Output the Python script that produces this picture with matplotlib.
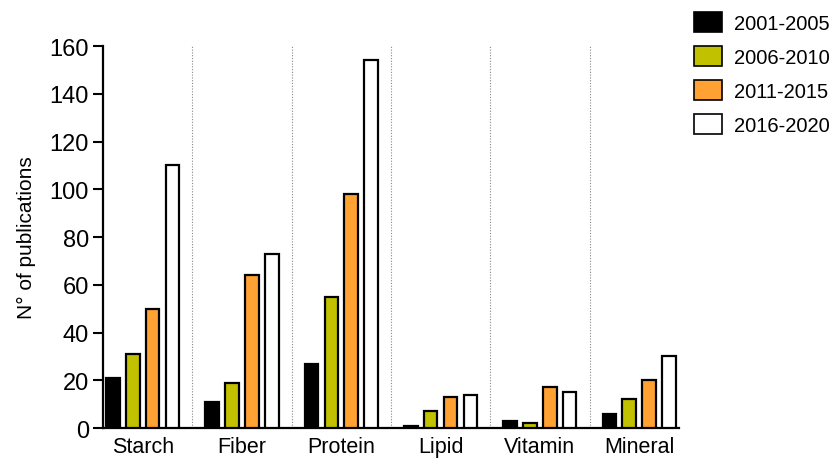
import numpy as np
import matplotlib
matplotlib.use("Agg")
import matplotlib.pyplot as plt
from matplotlib.patches import Patch

plt.rcParams['font.family'] = ['Liberation Sans', 'DejaVu Sans']

# data
categories = ['Starch', 'Fiber', 'Protein', 'Lipid', 'Vitamin', 'Mineral']
periods = ['2001-2005', '2006-2010', '2011-2015', '2016-2020']
p2001 = [21, 11, 27, 1, 3, 6]
p2006 = [31, 19, 55, 7, 2, 12]
p2011 = [50, 64, 98, 13, 17, 20]
p2016 = [110, 73, 154, 14, 15, 30]
colors = ['#000000', '#c2c100', '#ffa133', '#ffffff']

series = [p2001, p2006, p2011, p2016]
group_step = 5  # 4 bars + 1 spacer

fig = plt.figure(figsize=(8.34, 4.64), dpi=100)
ax = fig.add_axes([0.1235, 0.0754, 0.814 - 0.1235, 0.8987 - 0.0754])

base = np.arange(len(categories)) * group_step
for i, vals in enumerate(series):
    ax.bar(base + i, vals, width=0.68, color=colors[i], edgecolor='black',
           linewidth=1.6, zorder=3)

# dotted separators between groups
for g in range(len(categories) - 1):
    ax.plot([base[g] + 4, base[g] + 4], [0, 160], ls=(0, (1, 1.5)),
            color='#888888', lw=0.8, zorder=1)

ax.set_xlim(-0.5, base[-1] + 3.5)
ax.set_ylim(0, 160)
ax.set_yticks(np.arange(0, 161, 20))
ax.set_xticks(base + 1.5)
ax.set_xticklabels(categories)
ax.tick_params(axis='x', length=0, labelsize=15.5, pad=6)
ax.tick_params(axis='y', length=7, width=1.5, labelsize=17, pad=3)
ax.spines['top'].set_visible(False)
ax.spines['right'].set_visible(False)
ax.spines['left'].set_linewidth(1.6)
ax.spines['bottom'].set_linewidth(1.6)
ax.set_ylabel('N° of publications', fontsize=15, labelpad=10)

handles = [Patch(facecolor=c, edgecolor='black', linewidth=1.2) for c in colors]
fig.legend(handles, periods, loc='upper left', bbox_to_anchor=(0.817, 1.0),
           frameon=False, fontsize=14.5, handlelength=1.35, handleheight=1.15,
           labelspacing=0.66, handletextpad=0.6, borderaxespad=0.25)

fig.savefig('out.png', dpi=100)
